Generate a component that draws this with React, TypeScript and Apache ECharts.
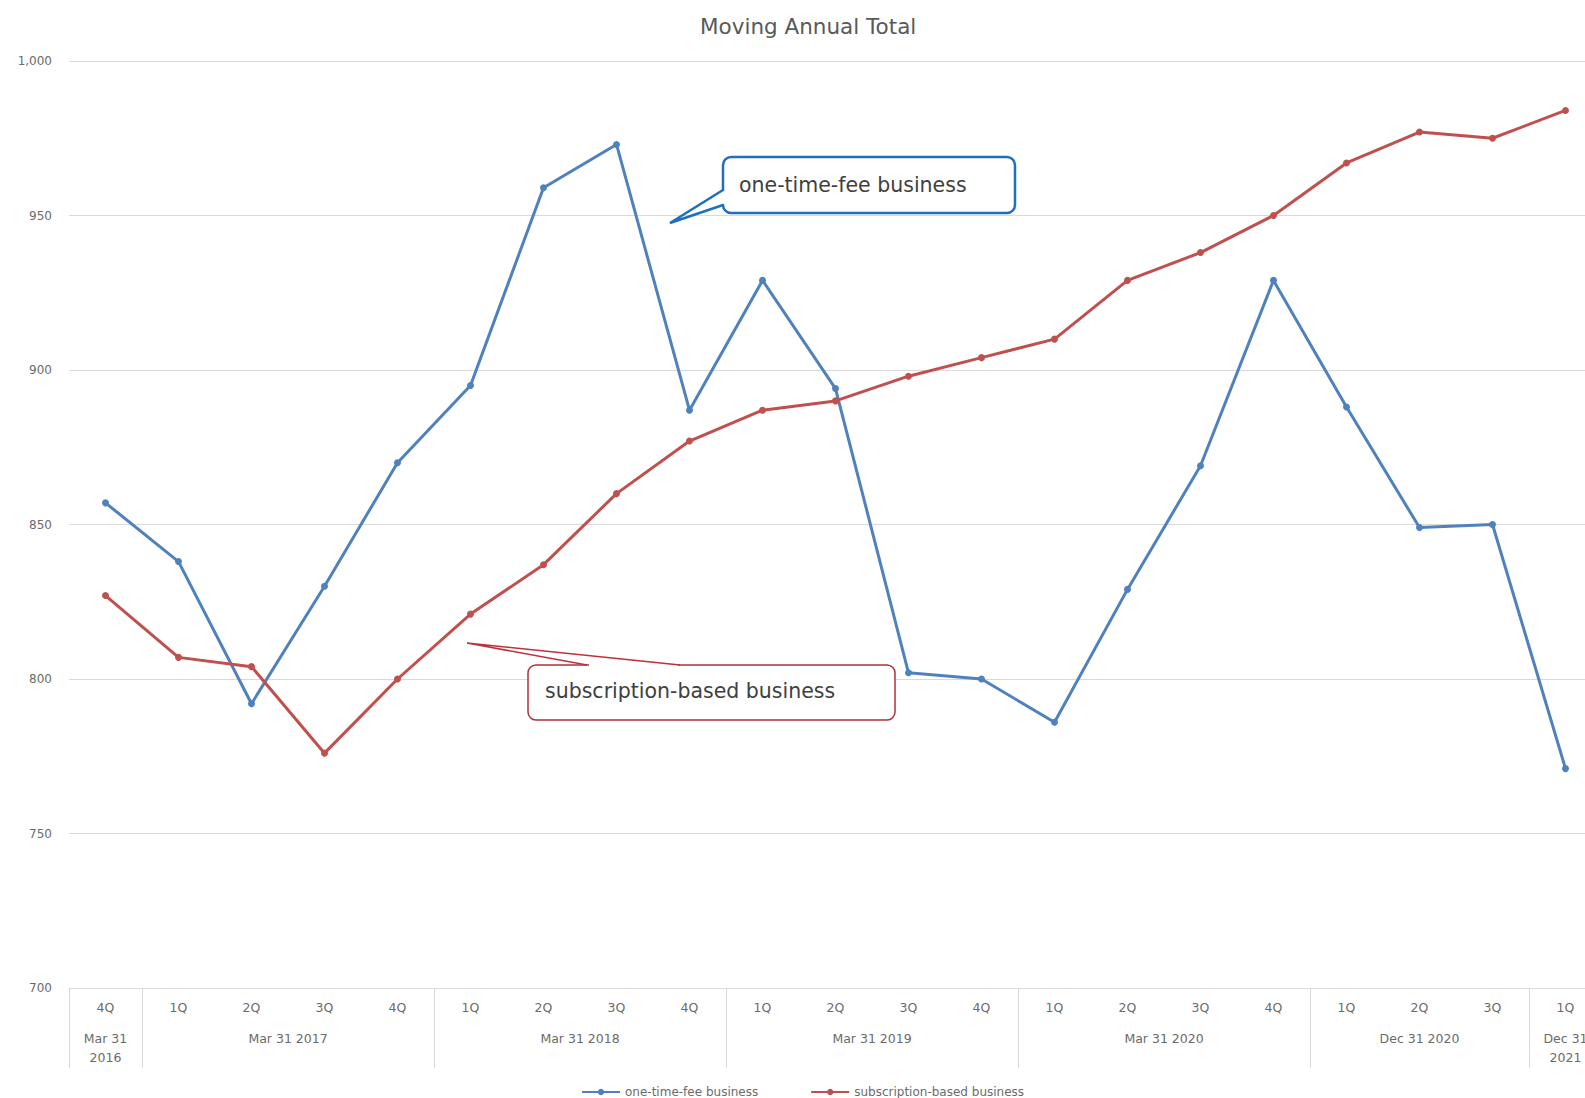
import React, { useEffect, useRef } from "react";
import * as echarts from "echarts";

const quarters = ["4Q","1Q","2Q","3Q","4Q","1Q","2Q","3Q","4Q","1Q","2Q","3Q","4Q","1Q","2Q","3Q","4Q","1Q","2Q","3Q","1Q"];
const groupLabels = ["Mar 31\n2016","Mar 31 2017","Mar 31 2018","Mar 31 2019","Mar 31 2020","Dec 31 2020","Dec 31\n2021"];
const groupCenters = [0, 2.5, 6.5, 10.5, 14.5, 18, 20];
const groupBounds = [-0.5, 0.5, 4.5, 8.5, 12.5, 16.5, 19.5];
const oneTimeFee = [857,838,792,830,870,895,959,973,887,929,894,802,800,786,829,869,929,888,849,850,771];
const subscription = [827,807,804,776,800,821,837,860,877,887,890,898,904,910,929,938,950,967,977,975,984];
const yTicks = { min: 700, max: 1000, interval: 50 };

const FONT = "'DejaVu Sans', sans-serif";
const BLUE = "#4f81bd";
const RED = "#c0504d";
const LABEL = "#6b6b6b";

export default function App() {
  const ref = useRef<HTMLDivElement>(null);
  useEffect(() => {
    const chart = echarts.init(ref.current!, undefined, { renderer: "svg" });
    chart.setOption({
      animation: false,
      backgroundColor: "#ffffff",
      title: {
        text: "Moving Annual Total",
        left: 695,
        top: 10,
        textStyle: { fontFamily: FONT, fontSize: 21.5, fontWeight: "normal", color: "#595959" },
      },
      legend: {
        left: 576,
        top: 1080,
        itemWidth: 38,
        itemHeight: 8,
        itemGap: 52,
        textStyle: { fontFamily: FONT, fontSize: 12, color: LABEL, lineHeight: 14 },
        data: ["one-time-fee business", "subscription-based business"],
      },
      grid: { left: 69, right: 0, top: 61, bottom: 110, containLabel: false },
      xAxis: [
        {
          type: "category",
          data: quarters,
          position: "bottom",
          boundaryGap: true,
          axisLine: { show: true, lineStyle: { color: "#d9d9d9", width: 1 } },
          axisTick: { show: false },
          axisLabel: { interval: 0, margin: 13, fontFamily: FONT, fontSize: 12.5, color: LABEL },
        },
        {
          type: "value",
          position: "bottom",
          min: -0.5,
          max: 20.5,
          axisLine: { show: false },
          splitLine: { show: false },
          axisTick: {
            show: true,
            customValues: groupBounds,
            length: 80,
            lineStyle: { color: "#d9d9d9", width: 1 },
          },
          axisLabel: {
            customValues: groupCenters,
            margin: 41,
            verticalAlign: "top",
            lineHeight: 19,
            fontFamily: FONT,
            fontSize: 12.5,
            color: LABEL,
            formatter: (v: number) => {
              const i = groupCenters.indexOf(v);
              return i >= 0 ? groupLabels[i] : "";
            },
          },
        },
      ],
      yAxis: {
        type: "value",
        min: yTicks.min,
        max: yTicks.max,
        interval: yTicks.interval,
        axisLine: { show: false },
        axisTick: { show: false },
        splitLine: { lineStyle: { color: "#d9d9d9", width: 1 } },
        axisLabel: {
          margin: 17,
          fontFamily: FONT,
          fontSize: 12,
          color: LABEL,
          formatter: (v: number) => v.toLocaleString("en-US"),
        },
      },
      series: [
        {
          name: "one-time-fee business",
          type: "line",
          data: oneTimeFee,
          xAxisIndex: 0,
          symbol: "circle",
          symbolSize: 7,
          itemStyle: { color: BLUE },
          lineStyle: { color: BLUE, width: 3 },
        },
        {
          name: "subscription-based business",
          type: "line",
          data: subscription,
          xAxisIndex: 0,
          symbol: "circle",
          symbolSize: 7,
          itemStyle: { color: RED },
          lineStyle: { color: RED, width: 3 },
        },
      ],
      graphic: [
        {
          type: "rect",
          shape: { x: 723, y: 157, width: 292, height: 56, r: 8 },
          style: { fill: "#ffffff", stroke: "#1f6fbf", lineWidth: 2.5 },
          z: 100,
        },
        {
          type: "line",
          shape: { x1: 723, y1: 191, x2: 723, y2: 204 },
          style: { stroke: "#ffffff", lineWidth: 4 },
          z: 101,
        },
        {
          type: "polyline",
          shape: { points: [[723, 190], [670, 223], [723, 205]] },
          style: { stroke: "#1f6fbf", lineWidth: 2.5, fill: "none" },
          z: 102,
        },
        {
          type: "text",
          x: 739,
          y: 185,
          style: { text: "one-time-fee business", fontFamily: FONT, fontSize: 20.5, fill: "#404040", verticalAlign: "middle" },
          z: 103,
        },
        {
          type: "rect",
          shape: { x: 528, y: 665, width: 367, height: 55, r: 8 },
          style: { fill: "#ffffff", stroke: "#b0303a", lineWidth: 1.5 },
          z: 100,
        },
        {
          type: "line",
          shape: { x1: 589, y1: 665, x2: 678, y2: 665 },
          style: { stroke: "#ffffff", lineWidth: 3 },
          z: 101,
        },
        {
          type: "polyline",
          shape: { points: [[587, 665], [467, 643], [680, 665]] },
          style: { stroke: "#c0303a", lineWidth: 1.5, fill: "none" },
          z: 102,
        },
        {
          type: "text",
          x: 545,
          y: 691,
          style: { text: "subscription-based business", fontFamily: FONT, fontSize: 20.5, fill: "#404040", verticalAlign: "middle" },
          z: 103,
        },
      ],
    });
    return () => chart.dispose();
  }, []);
  return (
    <div style={{ position: "absolute", left: 0, top: 0, width: 1585, height: 1098, overflow: "hidden", background: "#fff" }}>
      <div ref={ref} style={{ position: "absolute", left: 0, top: 0, width: 1602, height: 1098 }} />
    </div>
  );
}
